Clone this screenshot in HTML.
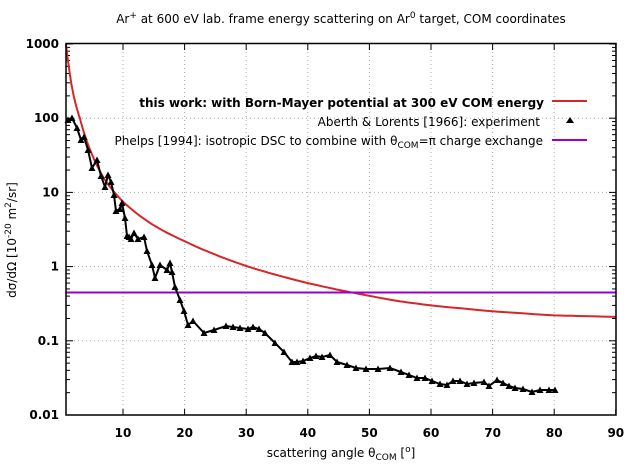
<!DOCTYPE html>
<html><head><meta charset="utf-8"><style>
body{margin:0;background:#fff;}
svg{display:block;font-family:"DejaVu Sans","Liberation Sans",sans-serif;}
</style></head><body>
<svg id="s" width="633" height="470" xmlns="http://www.w3.org/2000/svg">
<text x="341" y="23" font-size="12" text-anchor="middle">Ar<tspan font-size="9" dy="-5">+</tspan><tspan dy="5"> at 600 eV lab. frame energy scattering on Ar</tspan><tspan font-size="9" dy="-5">0</tspan><tspan dy="5"> target, COM coordinates</tspan></text>
<g id="grid" stroke="#aaa" stroke-dasharray="1,3" stroke-width="1"></g>
<g id="ticks" stroke="#000" stroke-width="1"></g>
<g id="lab" font-size="12" font-weight="bold"></g>
<polyline id="red" fill="none" stroke="#d62728" stroke-width="2"/>
<line x1="66" x2="616" y1="292.5" y2="292.5" stroke="#9400d3" stroke-width="2"/>
<polyline id="exp" fill="none" stroke="#000" stroke-width="2"/>
<g id="tri" fill="#000"></g>
<rect x="66" y="43.5" width="550" height="371.5" fill="none" stroke="#000" stroke-width="1.5"/>
<g font-size="12" text-anchor="end">
<text x="544" y="107" font-weight="bold">this work: with Born-Mayer potential at 300 eV COM energy</text>
<text x="540" y="126">Aberth &amp; Lorents [1966]: experiment</text>
<text x="543" y="145">Phelps [1994]: isotropic DSC to combine with θ<tspan font-size="9" dy="3">COM</tspan><tspan dy="-3">=π charge exchange</tspan></text>
</g>
<line x1="552" x2="587" y1="101" y2="101" stroke="#d62728" stroke-width="2"/>
<polygon points="566,123 570,117 574,123" fill="#000"/>
<line x1="552" x2="587" y1="140" y2="140" stroke="#9400d3" stroke-width="2"/>
<text x="341" y="457" font-size="12" text-anchor="middle">scattering angle θ<tspan font-size="9" dy="3">COM</tspan><tspan dy="-3"> [</tspan><tspan font-size="9" dy="-5">o</tspan><tspan dy="5">]</tspan></text>
<text transform="translate(16,240) rotate(-90)" font-size="12" text-anchor="middle">dσ/dΩ [10<tspan font-size="9" dy="-5">-20</tspan><tspan dy="5"> m</tspan><tspan font-size="9" dy="-5">2</tspan><tspan dy="5">/sr]</tspan></text>
</svg>
<script>
var ns="http://www.w3.org/2000/svg";
function X(t){return 61.4+t*6.16;}
function Y(v){return 44+(3-Math.log10(v))*74.2;}
function el(p,n,a,txt){var e=document.createElementNS(ns,n);for(var k in a)e.setAttribute(k,a[k]);if(txt)e.textContent=txt;document.getElementById(p).appendChild(e);}
for(var t=10;t<=80;t+=10)el("grid","line",{x1:X(t),x2:X(t),y1:44,y2:415});
[100,10,1,0.1].forEach(function(v){el("grid","line",{x1:66,x2:616,y1:Y(v),y2:Y(v)});});
for(var t=10;t<=90;t+=10){el("ticks","line",{x1:X(t),x2:X(t),y1:415,y2:409});el("ticks","line",{x1:X(t),x2:X(t),y1:44,y2:50});el("lab","text",{x:X(t),y:437,"text-anchor":"middle"},""+t);}
var yl=["1000","100","10","1","0.1","0.01"];
for(var d=0;d<6;d++){var v=Math.pow(10,3-d);el("ticks","line",{x1:66,x2:73,y1:Y(v),y2:Y(v)});el("ticks","line",{x1:616,x2:609,y1:Y(v),y2:Y(v)});
el("lab","text",{x:59,y:Y(v)+4,"text-anchor":"end"},yl[d]);
if(d<5)for(var m=2;m<10;m++){var y=Y(v/10*m);el("ticks","line",{x1:66,x2:70,y1:y,y2:y});el("ticks","line",{x1:616,x2:612,y1:y,y2:y});}}
// red curve
var rp=[[0.75,1000],[1.2,500],[2,200],[3,100],[5,32],[7,15],[10,7.5],[15,3.6],[20,2.2],[25,1.45],[30,1.02],[40,0.6],[47,0.45],[55,0.34],[60,0.3],[70,0.25],[80,0.22],[90,0.21]];
var pts=[];
for(var i=0;i<rp.length-1;i++){var a=rp[i],b=rp[i+1];for(var k=0;k<10;k++){var f=k/10;var lt=Math.log(a[0])*(1-f)+Math.log(b[0])*f;var lv=Math.log10(a[1])*(1-f)+Math.log10(b[1])*f;var t=Math.exp(lt);pts.push(X(t).toFixed(1)+","+(44+(3-lv)*74.2).toFixed(1));}}
pts.push(X(90)+","+Y(0.21));
document.getElementById("red").setAttribute("points",pts.join(" "));
var e=[[68,120],[72,118],[77,128],[81,140],[84,137],[88,150],[92,168],[97,160],[101,176],[105,187],[108,175],[111,182],[114,195],[116,211],[120,209],[122,203],[125,218],[127,236],[129,237],[131,239],[134,233],[138,239],[144,237],[147,251],[152,265],[155,278],[160,265],[167,270],[170,263],[172,272],[175,287],[180,300],[184,311],[188,325],[193,321],[204,333],[214,330],[226,326],[233,327],[240,328],[248,329],[253,327],[259,329],[265,333],[275,343],[284,352],[292,362],[297,362],[303,361],[310,358],[316,356],[322,357],[330,355],[337,362],[347,365],[356,368],[366,369],[378,369],[390,368],[401,372],[409,375],[417,378],[425,378],[432,381],[440,384],[447,385],[453,381],[460,381],[467,384],[474,383],[484,382],[489,386],[497,380],[503,383],[509,386],[515,388],[523,389],[532,392],[540,390],[549,390],[555,390]];
document.getElementById("exp").setAttribute("points",e.map(function(p){return p.join(",")}).join(" "));
e.forEach(function(p){el("tri","polygon",{points:(p[0]-3.5)+","+(p[1]+3)+" "+p[0]+","+(p[1]-3.5)+" "+(p[0]+3.5)+","+(p[1]+3)});});
</script>
</body></html>
